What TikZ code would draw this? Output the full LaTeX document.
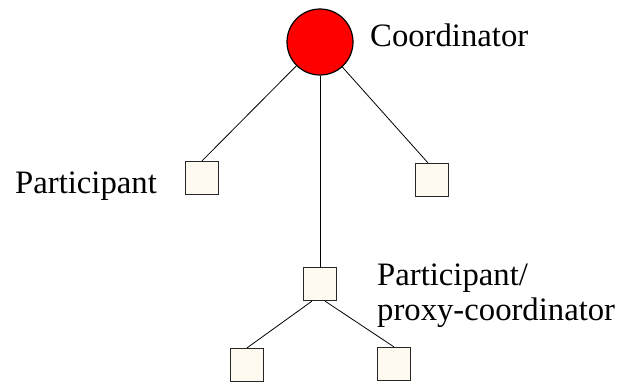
\documentclass[tikz,border=0pt]{standalone}
\usepackage{fontspec}
\setmainfont{Liberation Serif}
\usepackage{xcolor}
\usepackage{tikz}

\definecolor{cream}{RGB}{255,250,240}

\begin{document}
\begin{tikzpicture}[x=1pt, y=-1pt,
  coordnode/.style={circle, draw=black, line width=1.2pt, fill=red, minimum size=66pt, inner sep=0pt},
  partnode/.style={rectangle, draw=black!85, line width=1.2pt, fill=cream, minimum size=33pt, inner sep=0pt},
  lbl/.style={anchor=base west, inner sep=0pt, font=\fontsize{32.7}{35}\selectfont},
  link/.style={draw=black, line width=0.8pt}]
\useasboundingbox (0,0) rectangle (621,384);
% nodes
\node[coordnode] (coord) at (320,42) {};
\node[partnode] (pl) at (202,178) {};
\node[partnode] (pr) at (432,180) {};
\node[partnode] (pm) at (320,284) {};
\node[partnode] (bl) at (247,365) {};
\node[partnode] (br) at (394,364) {};
% labels
\node[lbl] (lcoord) at (370,46) {Coordinator};
\node[lbl] (lpart) at (15,193) {Participant};
\node[lbl] (lproxy1) at (377,285) {Participant/};
\node[lbl] (lproxy2) at (377,320) {proxy-coordinator};
% links
\draw[link] (coord) -- (pl.north);
\draw[link] (coord) -- ([xshift=-4pt]pr.north);
\draw[link] (coord) -- (pm.north);
\draw[link] ([xshift=-8pt]pm.south) -- (bl.north);
\draw[link] ([xshift=5pt]pm.south) -- (br.north);
\end{tikzpicture}
\end{document}
